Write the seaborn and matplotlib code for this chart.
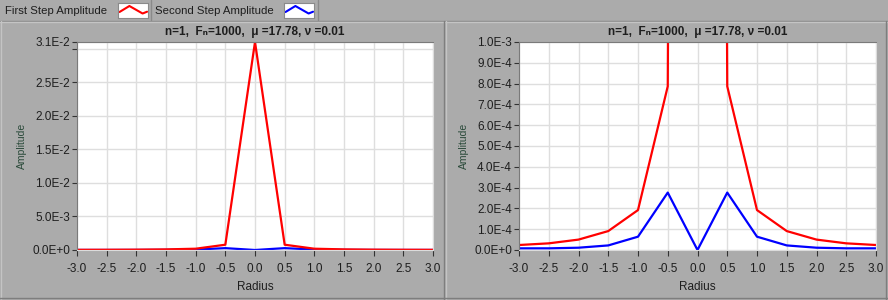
import numpy as np
import pandas as pd
import matplotlib
matplotlib.use("Agg")
import matplotlib.pyplot as plt
from matplotlib.lines import Line2D
import seaborn as sns

# ---- data ----
radius = [-3.0, -2.5, -2.0, -1.5, -1.0, -0.5, 0.0, 0.5, 1.0, 1.5, 2.0, 2.5, 3.0]
first_step = [2.4e-5, 3.2e-5, 5.0e-5, 9.1e-5, 1.92e-4, 7.87e-4, 3.1e-2,
              7.87e-4, 1.92e-4, 9.1e-5, 5.0e-5, 3.2e-5, 2.4e-5]
second_step = [8e-6, 8e-6, 1.1e-5, 2.2e-5, 6.4e-5, 2.76e-4, 0.0,
               2.76e-4, 6.4e-5, 2.2e-5, 1.1e-5, 8e-6, 8e-6]
series_names = ["First Step Amplitude", "Second Step Amplitude"]
title_text = "n=1,  F\u2099=1000,  \u03bc =17.78, \u03bd =0.01"

x_ticks = [-3.0, -2.5, -2.0, -1.5, -1.0, -0.5, 0.0, 0.5, 1.0, 1.5, 2.0, 2.5, 3.0]
x_ticklabels = ["-3.0", "-2.5", "-2.0", "-1.5", "-1.0", "-0.5", "0.0",
                "0.5", "1.0", "1.5", "2.0", "2.5", "3.0"]
left_yticks = [0.0, 0.005, 0.010, 0.015, 0.020, 0.025, 0.030, 0.031]
left_yticklabels = ["0.0E+0", "5.0E-3", "1.0E-2", "1.5E-2", "2.0E-2", "2.5E-2", "", "3.1E-2"]
right_yticks = [0.0, 1e-4, 2e-4, 3e-4, 4e-4, 5e-4, 6e-4, 7e-4, 8e-4, 9e-4, 1e-3]
right_yticklabels = ["0.0E+0", "1.0E-4", "2.0E-4", "3.0E-4", "4.0E-4", "5.0E-4",
                     "6.0E-4", "7.0E-4", "8.0E-4", "9.0E-4", "1.0E-3"]

df = pd.DataFrame({"Radius": radius, "first": first_step, "second": second_step})

# ---- style ----
sns.set_style("white")
plt.rcParams["font.family"] = ["Liberation Sans", "DejaVu Sans"]
BG = "#ababab"
RED = "#ff0000"
BLUE = "#0000ff"
GRID = "#dedede"
TXT = "#1e1e1e"

W, H = 888, 300
fig = plt.figure(figsize=(W / 100, H / 100), dpi=100, facecolor=BG)

def fx(px):
    return px / W

def fy(py):
    return 1 - py / H

ax_l = fig.add_axes([fx(77), fy(250), fx(433 - 77), (250 - 42) / H])
ax_r = fig.add_axes([fx(519), fy(250), fx(876 - 519), (250 - 42) / H])

for ax, ylim, yt, ytl in [(ax_l, (0, 0.031), left_yticks, left_yticklabels),
                          (ax_r, (0, 1e-3), right_yticks, right_yticklabels)]:
    ax.set_facecolor("white")
    sns.lineplot(data=df, x="Radius", y="second", ax=ax, color=BLUE, lw=1.6)
    sns.lineplot(data=df, x="Radius", y="first", ax=ax, color=RED, lw=1.6)
    ax.set_xlim(-3, 3)
    ax.set_ylim(*ylim)
    ax.set_xticks(x_ticks)
    ax.set_xticklabels(x_ticklabels)
    ax.set_yticks(yt)
    ax.set_yticklabels(ytl)
    ax.grid(True, color=GRID, lw=1.0)
    ax.set_axisbelow(True)
    ax.tick_params(axis="both", width=0.8, color="#333333",
                   labelsize=8.5, labelcolor=TXT, direction="out")
    ax.tick_params(axis="x", bottom=True, length=4, pad=5)
    ax.tick_params(axis="y", left=True, length=3.5, pad=1.5)
    ax.set_xlabel("Radius", fontsize=8.5, color=TXT, labelpad=5)
    ax.set_ylabel("Amplitude", fontsize=7.5, color="#2a4a3a", labelpad=4)
    ax.set_title(title_text, fontsize=8.5, fontweight="bold", color=TXT, pad=5)
    for side, sp in ax.spines.items():
        sp.set_linewidth(0.8)
        sp.set_color("#7a7a7a" if side in ("left", "top") else "#dcdcdc")

# ---- legend bar ----
fig.text(fx(5), fy(10.5), series_names[0], fontsize=8.2, color=TXT, va="center", ha="left")
fig.text(fx(155), fy(10.5), series_names[1], fontsize=8.2, color=TXT, va="center", ha="left")
for x0, col in [(118, RED), (284, BLUE)]:
    ia = fig.add_axes([fx(x0), fy(18), fx(30), 15 / H])
    ia.set_facecolor("white")
    ia.plot([0.05, 0.38, 0.82, 0.97], [0.4, 0.8, 0.3, 0.42], color=col, lw=1.5)
    ia.set_xlim(0, 1)
    ia.set_ylim(0, 1)
    ia.set_xticks([])
    ia.set_yticks([])
    for sp in ia.spines.values():
        sp.set_color("#8a8a8a")
        sp.set_linewidth(0.8)

def fline(xs, ys, color, lw=1.0):
    fig.add_artist(Line2D([fx(v) for v in xs], [fy(v) for v in ys],
                          color=color, lw=lw, transform=fig.transFigure))

fline([151, 151], [0, 20], "#8a8a8a")
fline([318, 318], [0, 20], "#8a8a8a")
fline([0, W], [20.5, 20.5], "#8a8a8a")
fline([0, W], [22, 22], "#c4c4c4")
fline([444, 444], [21, H], "#7e7e7e")
fline([446, 446], [21, H], "#c4c4c4")
fline([1, 1], [21, H], "#c4c4c4")
fline([886, 886], [21, H], "#7e7e7e")
fline([0, W], [298, 298], "#7e7e7e")

fig.savefig("out.png", dpi=100, facecolor=BG)
